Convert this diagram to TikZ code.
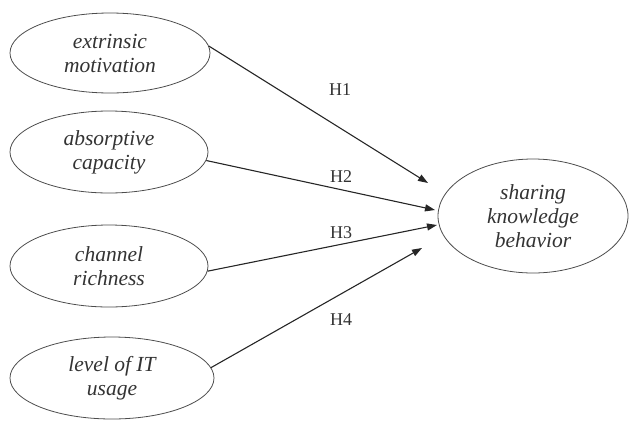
\documentclass[tikz,border=0pt]{standalone}
\usepackage{fontspec}
\setmainfont{Liberation Serif}
\usetikzlibrary{shapes.geometric,arrows.meta}
\begin{document}
\begin{tikzpicture}[x=1pt,y=-1pt,
  construct/.style={draw=black!70,line width=0.8pt,ellipse,inner sep=0pt,
    align=center,text=black!80,font=\fontsize{21.5}{24}\selectfont\itshape},
  path/.style={draw=black!85,line width=1.1pt,-{Triangle[length=10pt,width=7pt]}},
  hyp/.style={text=black!80,font=\fontsize{18}{20}\selectfont}]
\useasboundingbox (0,0) rectangle (629,421);
\node[construct,minimum width=200pt,minimum height=80pt] (e1) at (110,53) {extrinsic\\motivation};
\node[construct,minimum width=198pt,minimum height=82pt] (e2) at (109,152) {absorptive\\capacity};
\node[construct,minimum width=198pt,minimum height=82pt] (e3) at (109,266) {channel\\richness};
\node[construct,minimum width=204pt,minimum height=82pt] (e4) at (112,378) {level of IT\\usage};
\node[construct,minimum width=190pt,minimum height=114pt] (y) at (533,216) {sharing\\knowledge\\behavior};
\coordinate (t1) at (428,183);
\coordinate (t2) at (435,210);
\coordinate (t3) at (437,225);
\coordinate (t4) at (422,248);
\draw[path] (e1.4) -- (t1);
\draw[path] (e2.-5) -- (t2);
\draw[path] (e3.-3.5) -- (t3);
\draw[path] (e4.6) -- (t4);
\node[hyp] (h1) at (340,90) {H1};
\node[hyp] (h2) at (341,177) {H2};
\node[hyp] (h3) at (341,233) {H3};
\node[hyp] (h4) at (341,320) {H4};
\end{tikzpicture}
\end{document}
